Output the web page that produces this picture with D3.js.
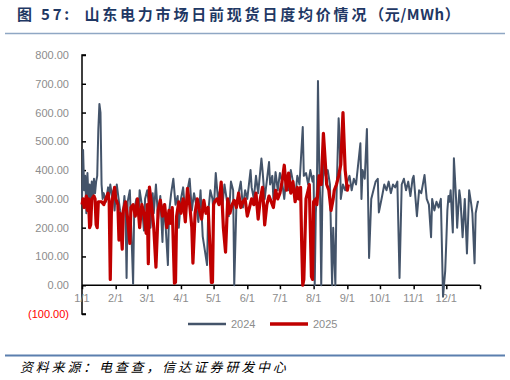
<!DOCTYPE html>
<html><head><meta charset="utf-8">
<script src="https://cdn.jsdelivr.net/npm/d3@7"></script>
<style>
body{margin:0;background:#fff;}
svg{display:block;}
</style></head>
<body>
<svg id="chart" width="510" height="380"></svg>
<script>
const titleMain = "图 57:  山东电力市场日前现货日度均价情况";
const titleUnit = "（元/MWh）";
const sourceText = "资料来源：电查查，信达证券研发中心";
const seriesNames = ["2024", "2025"];
const yTicks = [-100, 0, 100, 200, 300, 400, 500, 600, 700, 800];
const monthLabels = ["1/1","2/1","3/1","4/1","5/1","6/1","7/1","8/1","9/1","10/1","11/1","12/1"];
const monthDays = [0,31,60,91,121,152,182,213,244,274,305,335];
const axisEndDay = 366;

// [day of year (on 2024 calendar axis), price]
const series2024 = [
[0,300],[1,470],[2,330],[3,380],[4,250],[5,390],[6,300],[7,350],[8,280],[9,360],[10,300],[11,370],[12,320],[13,360],[14,380],[15,540],[16,630],[17,600],[18,350],[19,300],[20,320],[22,290],[24,340],[25,310],[26,350],[28,300],[29,330],[30,260],
[31,320],[32,350],[34,290],[35,260],[37,220],[39,310],[40,260],[41,25],[42,290],[44,330],[46,120],[47,5],[48,260],[50,300],[52,240],[53,330],[55,280],[57,190],[58,300],
[60,330],[62,270],[63,200],[65,320],[66,250],[68,350],[70,230],[72,310],[74,150],[75,280],[77,200],[79,70],[80,250],[82,320],[84,370],[86,280],[88,310],[89,200],
[91,300],[93,340],[95,250],[97,330],[99,370],[101,260],[103,320],[105,280],[107,220],[109,330],[111,170],[113,120],[115,70],[116,250],[118,330],[120,300],
[121,250],[123,390],[125,300],[127,330],[129,270],[131,350],[133,300],[135,240],[137,360],[139,330],[140,0],[142,280],[144,320],[146,360],[148,270],[150,330],
[152,300],[155,400],[156,340],[158,300],[160,380],[162,320],[165,440],[166,400],[168,300],[172,428],[173,350],[175,380],[176,300],[178,393],[180,330],
[182,390],[184,360],[186,300],[188,380],[190,330],[192,400],[194,360],[196,300],[198,380],[200,350],[203,550],[204,380],[206,390],[208,350],[210,400],[212,360],
[213,380],[214,0],[215,250],[216,330],[217,710],[218,450],[219,300],[220,0],[221,300],[222,420],[224,380],[226,400],[228,350],[230,0],[231,200],[233,0],[234,300],[236,580],[237,500],[238,300],[240,350],[242,330],
[244,360],[246,380],[248,330],[250,370],[252,350],[256,493],[257,300],[258,400],[260,370],[262,543],[264,95],[266,300],[268,330],[270,360],[272,370],
[273,253],[276,310],[278,350],[280,330],[282,360],[284,320],[286,350],[288,340],[290,360],[292,25],[294,350],[296,370],[298,330],[300,360],[302,310],[304,370],
[305,380],[308,240],[310,330],[312,320],[315,383],[317,300],[319,280],[321,167],[322,300],[324,260],[326,290],[328,270],[330,300],[332,-40],[334,50],
[335,150],[336,260],[337,310],[338,290],[339,330],[341,183],[342,441],[344,300],[345,200],[347,330],[348,300],[350,167],[352,300],[354,110],[356,330],[358,280],[359,250],[361,76],[362,250],[364,290],[365,290]
];

const series2025 = [
[0,280],[1,300],[2,270],[4,310],[5,260],[6,300],[7,200],[8,210],[9,300],[11,310],[12,300],[13,210],[14,200],[15,290],[18,290],[20,280],[22,300],[24,320],[25,290],[26,20],[27,250],[28,300],[30,340],
[31,300],[33,280],[34,157],[35,250],[37,125],[38,260],[40,290],[42,230],[44,145],[45,270],[47,280],[49,240],[51,300],[53,200],[55,280],[57,250],[59,180],
[60,280],[61,75],[62,341],[64,280],[66,200],[68,63],[70,260],[72,296],[74,240],[76,280],[78,200],[80,260],[81,215],[83,270],[85,7],[86,10],[87,240],[89,290],
[91,250],[93,300],[95,220],[97,337],[99,280],[101,200],[102,77],[104,250],[106,300],[108,260],[110,230],[112,295],[114,250],[116,270],[118,100],[119,10],[120,10],
[121,280],[122,290],[124,300],[126,280],[128,358],[130,200],[132,115],[134,300],[136,250],[138,280],[140,295],[142,270],[144,320],[146,270],[148,290],[150,300],
[152,240],[154,270],[156,300],[158,280],[160,320],[162,230],[164,300],[166,340],[168,210],[170,280],[172,310],[174,290],[176,270],[178,330],[180,300],
[182,320],[184,360],[186,417],[188,330],[190,390],[192,320],[194,360],[196,290],[198,340],[199,300],[201,340],[202,150],[203,0],[204,20],[206,300],[208,330],[209,350],[211,30],[212,20],
[213,290],[215,300],[216,280],[218,380],[220,350],[222,528],[223,470],[225,350],[227,330],[229,260],[231,300],[232,330],[234,350],[236,380],[238,420],[240,600],[241,500],[242,400],[244,330],[245,350]
];

const colors = ["#44546A", "#C00000"];

const svg = d3.select("#chart");
const x = d3.scaleLinear().domain([0, axisEndDay]).range([82, 480]);
const y = d3.scaleLinear().domain([-100, 800]).range([314, 55]);

// title
const title = svg.append("text").attr("x", 17).attr("y", 20)
  .attr("font-family", "'Noto Sans CJK SC', sans-serif").attr("font-size", 15).attr("font-weight", "bold")
  .attr("fill", "#1F3864").style("white-space","pre");
title.append("tspan").attr("letter-spacing", "2.8px").text(titleMain);
title.append("tspan").attr("letter-spacing", "0.6px").text(titleUnit);
svg.append("line").attr("x1", 5).attr("x2", 505).attr("y1", 33.5).attr("y2", 33.5)
  .attr("stroke", "#8FA7C4").attr("stroke-width", 1.5);

// y axis
const yAxis = d3.axisRight(y).tickValues(yTicks).tickSize(4).tickFormat("");
const gy = svg.append("g").attr("transform", "translate(82,0)").call(yAxis);
gy.select(".domain").attr("stroke", "#000").attr("stroke-width", 1.5).attr("d", `M4,${y(-100)}H0V${y(800)}H4`);
gy.selectAll(".tick line").attr("stroke", "#000").attr("stroke-width", 1.5);
svg.append("g").selectAll("text").data(yTicks).join("text")
  .attr("x", 69).attr("y", d => y(d) + 4)
  .attr("text-anchor", "end")
  .attr("font-family", "'Liberation Sans', Arial, sans-serif").attr("font-size", 11)
  .attr("fill", d => d < 0 ? "#FF0000" : "#8C8C8C")
  .text(d => d < 0 ? "(" + d3.format(".2f")(-d) + ")" : d3.format(".2f")(d));

// x axis
const xAxis = d3.axisBottom(x).tickValues(monthDays.concat([axisEndDay])).tickSize(4).tickFormat("");
const gx = svg.append("g").attr("transform", `translate(0,${y(0)})`).call(xAxis);
gx.select(".domain").attr("stroke", "#000").attr("stroke-width", 1.5).attr("d", `M${x(0)},0H${x(axisEndDay)}`);
gx.selectAll(".tick line").attr("stroke", "#000").attr("stroke-width", 1.5);
svg.append("g").selectAll("text").data(monthLabels).join("text")
  .attr("x", (d, i) => x(monthDays[i]))
  .attr("y", y(0) + 17)
  .attr("text-anchor", "middle")
  .attr("font-family", "'Liberation Sans', Arial, sans-serif").attr("font-size", 11)
  .attr("fill", "#8C8C8C")
  .text(d => d);

// lines
const line = d3.line().x(d => x(d[0])).y(d => y(d[1]));
svg.append("path").datum(series2024).attr("d", line)
  .attr("fill", "none").attr("stroke", colors[0]).attr("stroke-width", 2).attr("stroke-linejoin", "round");
svg.append("path").datum(series2025).attr("d", line)
  .attr("fill", "none").attr("stroke", colors[1]).attr("stroke-width", 3.2).attr("stroke-linejoin", "round");

// legend
const legX = [188, 270];
seriesNames.forEach((n, i) => {
  svg.append("line").attr("x1", legX[i]).attr("x2", legX[i] + 38).attr("y1", 324).attr("y2", 324)
    .attr("stroke", colors[i]).attr("stroke-width", i === 0 ? 2.5 : 3.5);
  svg.append("text").attr("x", legX[i] + 43).attr("y", 328)
    .attr("font-family", "'Liberation Sans', Arial, sans-serif").attr("font-size", 11)
    .attr("fill", "#8C8C8C").text(n);
});

// footer
svg.append("line").attr("x1", 5).attr("x2", 505).attr("y1", 355.5).attr("y2", 355.5)
  .attr("stroke", "#5B7FAE").attr("stroke-width", 2);
svg.append("text").attr("x", 20).attr("y", 372)
  .attr("font-family", "'Noto Sans CJK SC', sans-serif").attr("font-size", 13)
  .attr("font-style", "italic").attr("fill", "#000").attr("letter-spacing", "2.8px")
  .text(sourceText);
</script>
</body></html>
